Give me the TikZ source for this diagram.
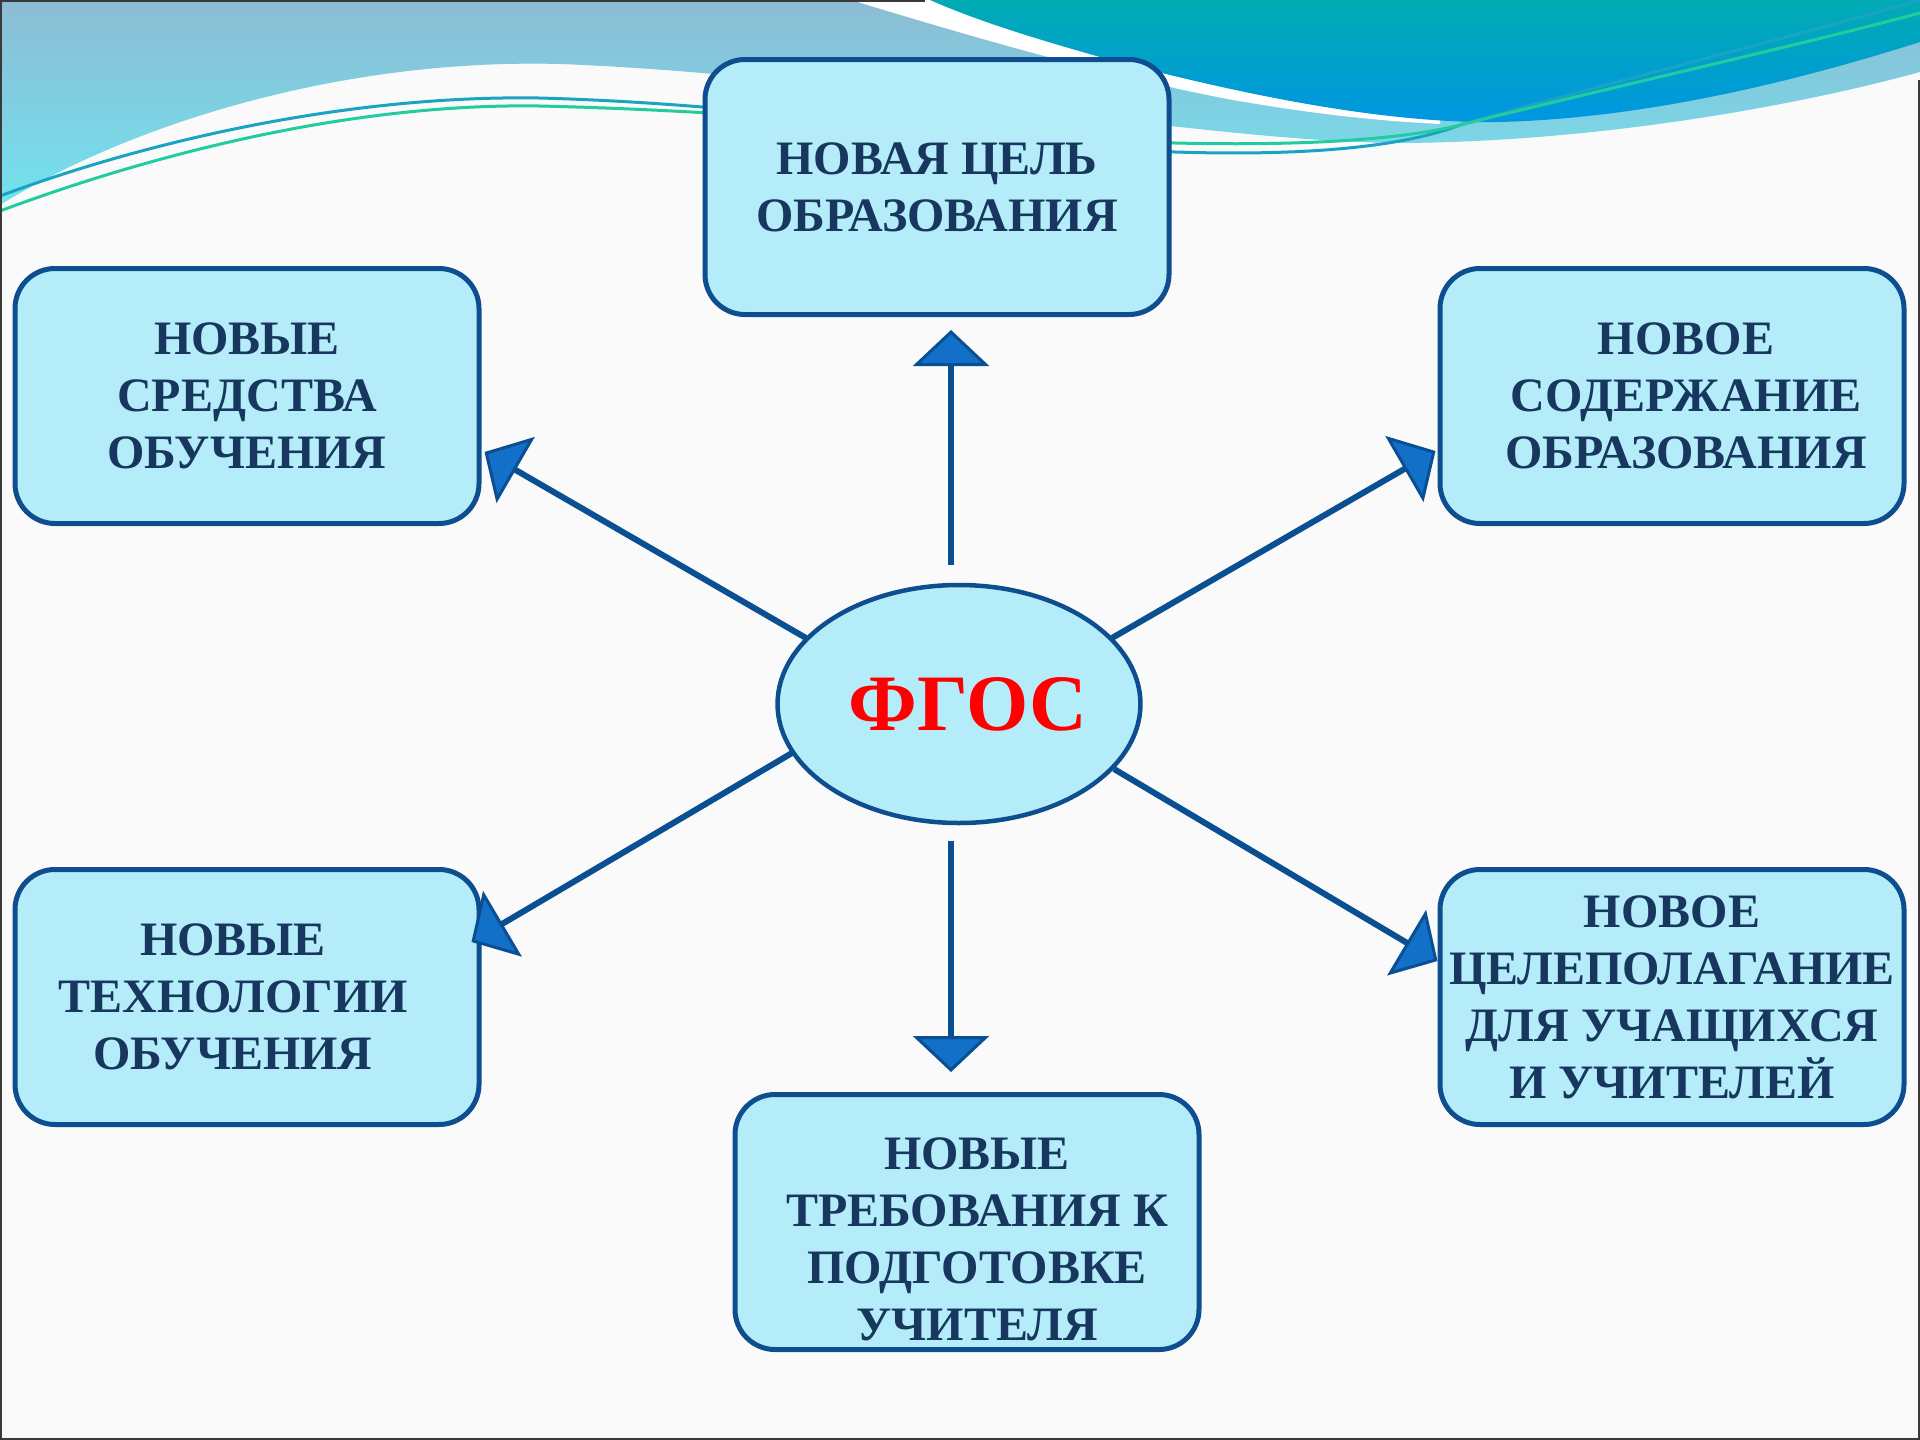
\documentclass[tikz,border=0pt]{standalone}
\usepackage{fontspec}
\setmainfont{Liberation Serif}
\usetikzlibrary{arrows.meta,shapes.geometric}
\definecolor{bgwhite}{HTML}{FAFAFA}
\definecolor{boxfill}{HTML}{B5ECFA}
\definecolor{boxline}{HTML}{0E4E8E}
\definecolor{txtnavy}{HTML}{17375E}
\definecolor{headblue}{HTML}{1270C8}
\definecolor{lineblue}{HTML}{0A4F92}
\definecolor{greyblue}{HTML}{8DBCD4}
\definecolor{cyanlow}{HTML}{72E2EF}
\definecolor{tealtop}{HTML}{00ABB3}
\definecolor{bluebot}{HTML}{0096E2}
\definecolor{thinteal}{HTML}{1BA3C4}
\definecolor{thingreen}{HTML}{22CC9F}
\definecolor{fgosred}{HTML}{FF0000}
\definecolor{frame}{HTML}{3A3A3A}
\begin{document}
\begin{tikzpicture}[x=1pt,y=-1pt,
  box/.style={draw=boxline, line width=5pt, fill=boxfill, rounded corners=40pt,
    minimum width=464pt, minimum height=255pt, inner sep=0pt, align=center,
    text=txtnavy, font=\fontsize{48}{57}\selectfont\bfseries},
  hub/.style={ellipse, draw=boxline, line width=4.5pt, fill=boxfill,
    minimum width=360pt, minimum height=238pt, inner sep=0pt,
    text=fgosred, font=\fontsize{80}{90}\selectfont\bfseries},
  arr/.style={draw=lineblue, line width=6pt,
    -{Triangle[length=36pt,width=76pt,line width=3pt,fill=headblue]}},
  thin/.style={line width=3pt}]
\useasboundingbox (0,0) rectangle (1920,1440);
\fill[bgwhite] (0,0) rectangle (1920,1440);
% top decoration
\shade[top color=greyblue, bottom color=cyanlow]
  (0,0) -- (1920,0) -- (1920,72)
  .. controls (1800,105) and (1600,142) .. (1400,143)
  .. controls (1200,142) and (850,75) .. (560,64)
  .. controls (330,58) and (120,130) .. (0,205) -- cycle;
\fill[white] (851,0) .. controls (950,30) and (1100,75) .. (1233,100)
  .. controls (1320,115) and (1380,121) .. (1440,124)
  -- (1440,110) -- (1300,60) -- (1100,0) -- cycle;
\shade[top color=tealtop, bottom color=bluebot]
  (930,0) -- (1920,0) -- (1920,42)
  .. controls (1800,80) and (1650,118) .. (1500,122)
  .. controls (1380,124) and (1230,92) .. (1100,57)
  .. controls (1040,40) and (980,22) .. (930,0) -- cycle;
\draw[thin, thinteal] (0,196) .. controls (150,140) and (350,95) .. (539,98)
  .. controls (800,105) and (1000,148) .. (1175,152)
  .. controls (1300,156) and (1400,148) .. (1460,125)
  .. controls (1600,85) and (1800,35) .. (1920,0);
\draw[thin, thingreen] (0,211) .. controls (150,155) and (350,103) .. (539,106)
  .. controls (800,112) and (1000,140) .. (1175,143)
  .. controls (1300,146) and (1400,140) .. (1460,125)
  .. controls (1600,90) and (1800,45) .. (1920,13);
\draw[frame, line width=2pt] (925,1) -- (1,1) -- (1,1439) -- (1919,1439) -- (1919,80);
% nodes
\node[box] (top) at (937,187) {НОВАЯ ЦЕЛЬ\\ОБРАЗОВАНИЯ};
\node[box] (lt) at (247,396) {НОВЫЕ\\СРЕДСТВА\\ОБУЧЕНИЯ};
\node[box] (rt) at (1672,396) {\hspace*{28pt}НОВОЕ\\\hspace*{28pt}СОДЕРЖАНИЕ\\\hspace*{28pt}ОБРАЗОВАНИЯ};
\node[box] (lb) at (247,997) {НОВЫЕ\hspace*{28pt}\mbox{}\\ТЕХНОЛОГИИ\hspace*{28pt}\mbox{}\\ОБУЧЕНИЯ\hspace*{28pt}\mbox{}};
\node[box] (rb) at (1672,997) {НОВОЕ\\ЦЕЛЕПОЛАГАНИЕ\\ДЛЯ УЧАЩИХСЯ\\И УЧИТЕЛЕЙ};
\node[box] (bot) at (967,1222) {\hspace*{20pt}\rule{0pt}{66pt}НОВЫЕ\\\hspace*{20pt}ТРЕБОВАНИЯ К\\\hspace*{20pt}ПОДГОТОВКЕ\\\hspace*{20pt}УЧИТЕЛЯ};
\node[hub] (c) at (959,704) {\hspace*{18pt}ФГОС};
% connectors
\draw[arr] ([shift={(-8pt,18pt)}]c.north) -- ([shift={(14pt,-13pt)}]top.south);
\draw[arr] ([shift={(-8pt,-16pt)}]c.south) -- ([shift={(-16pt,20pt)}]bot.north);
\draw[arr] ([shift={(-153pt,66pt)}]c.center) -- ([shift={(3pt,-56pt)}]lt.east);
\draw[arr] ([shift={(153pt,66pt)}]c.center) -- ([shift={(-2pt,-55pt)}]rt.west);
\draw[arr] ([shift={(-167pt,-49pt)}]c.center) -- ([shift={(-10pt,55pt)}]lb.east);
\draw[arr] ([shift={(155pt,-65pt)}]c.center) -- ([shift={(0pt,36pt)}]rb.west);
\end{tikzpicture}
\end{document}
